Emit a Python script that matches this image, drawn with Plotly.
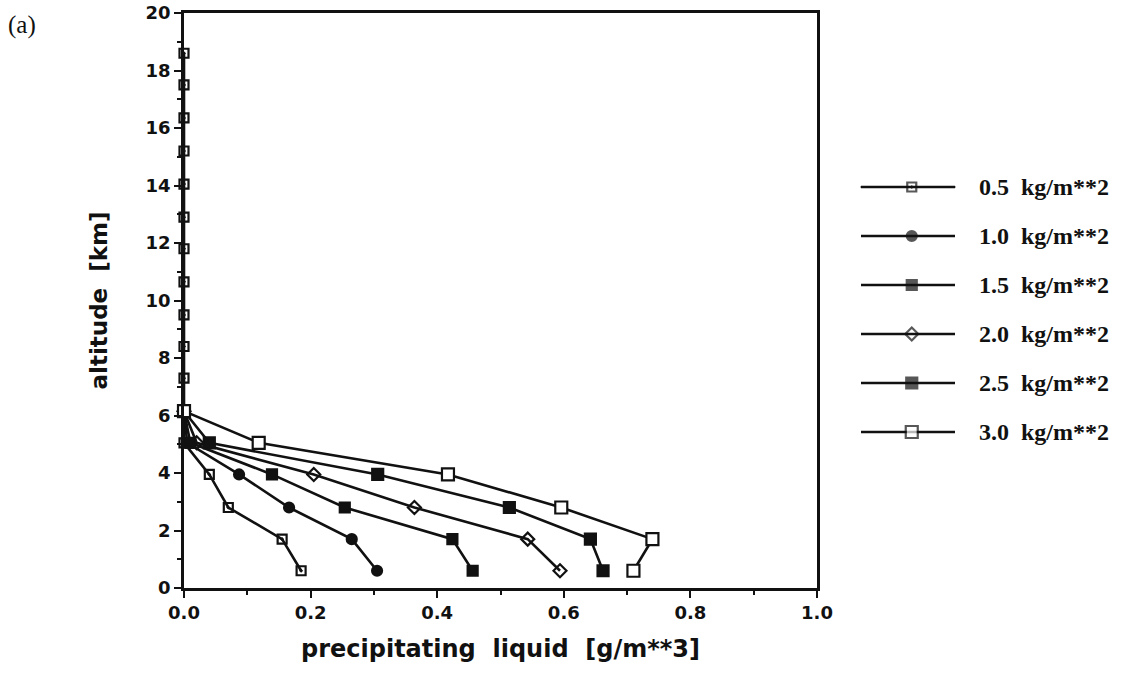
import plotly.graph_objects as go

# ---- data ----
altitude_km = [0.6, 1.7, 2.8, 3.95, 5.05, 6.15, 7.3, 8.4, 9.5, 10.65,
               11.8, 12.9, 14.05, 15.2, 16.35, 17.5, 18.6]

# the 0.5 profile is drawn up to the top level, the others stop at 6.15 km
liq_05 = [0.185, 0.155, 0.070, 0.040, 0.000, 0.0, 0.0, 0.0, 0.0, 0.0,
          0.0, 0.0, 0.0, 0.0, 0.0, 0.0, 0.0]
liq_10 = [0.305, 0.265, 0.166, 0.087, 0.005, 0.0]
liq_15 = [0.456, 0.424, 0.254, 0.139, 0.010, 0.0]
liq_20 = [0.594, 0.543, 0.364, 0.205, 0.020, 0.0]
liq_25 = [0.662, 0.642, 0.514, 0.306, 0.040, 0.0]
liq_30 = [0.710, 0.740, 0.596, 0.417, 0.118, 0.0]

series_values = [liq_05, liq_10, liq_15, liq_20, liq_25, liq_30]
series_labels = ["0.5  kg/m**2", "1.0  kg/m**2", "1.5  kg/m**2",
                 "2.0  kg/m**2", "2.5  kg/m**2", "3.0  kg/m**2"]

x_tick_vals = [0.0, 0.2, 0.4, 0.6, 0.8, 1.0]
x_tick_text = ["0.0", "0.2", "0.4", "0.6", "0.8", "1.0"]
y_tick_vals = [0, 2, 4, 6, 8, 10, 12, 14, 16, 18, 20]

# ---- styles ----
symbols = ["square-open-dot", "circle", "square", "diamond-open", "square", "square"]
fills = ["#111111", "#111111", "#111111", "#111111", "#111111", "white"]
sizes = [9, 10, 10, 10, 11, 12]
W, H = 1122, 682
BLACK = "#111111"

fig = go.Figure()

for vals, lab, sym, fc, sz in zip(series_values, series_labels, symbols, fills, sizes):
    fig.add_trace(go.Scatter(
        x=vals, y=altitude_km[:len(vals)], mode="lines+markers", name=lab,
        line=dict(color=BLACK, width=2.6),
        marker=dict(symbol=sym, size=sz, color=fc,
                    line=dict(color=BLACK, width=2.2)),
        cliponaxis=False, showlegend=False,
        xaxis="x", yaxis="y"))

# custom legend drawn on a second pair of axes
for i, (lab, sym, fc, sz) in enumerate(zip(series_labels, symbols, fills, sizes)):
    fig.add_trace(go.Scatter(
        x=[0, 0.54, 1], y=[i, i, i], mode="lines+markers",
        line=dict(color=BLACK, width=2.6),
        marker=dict(symbol=sym, size=[0, sz, 0], color=fc,
                    line=dict(color=BLACK, width=[0, 2.2, 0])),
        cliponaxis=False, showlegend=False, hoverinfo="skip",
        xaxis="x2", yaxis="y2"))
    fig.add_annotation(
        x=977 / W, xref="paper", y=i, yref="y2", text=lab, showarrow=False,
        xanchor="left", yanchor="middle",
        font=dict(family="Liberation Serif", size=24, color=BLACK, weight="bold"))

fig.add_annotation(
    x=6 / W, xref="paper", y=1 - 25 / H, yref="paper", text="(a)", showarrow=False,
    xanchor="left", yanchor="middle",
    font=dict(family="Liberation Serif", size=25, color=BLACK))

axis_common = dict(
    showgrid=False, zeroline=False, showline=True, linecolor=BLACK, linewidth=2.5,
    mirror=True, ticks="outside", tickcolor=BLACK, tickwidth=2, ticklen=7,
    automargin=False,
    tickfont=dict(family="DejaVu Sans", size=18, color=BLACK, weight="bold"),
)

fig.update_layout(
    width=W, height=H,
    margin=dict(l=0, r=0, t=0, b=0),
    paper_bgcolor="white", plot_bgcolor="white",
    template="none",
    showlegend=False,
    xaxis=dict(
        domain=[184 / W, 817 / W], range=[0, 1],
        tickvals=x_tick_vals, ticktext=x_tick_text,
        minor=dict(dtick=0.1, tick0=0, ticks="outside", ticklen=4, tickwidth=2, tickcolor=BLACK),
        title=dict(text="precipitating  liquid  [g/m**3]", standoff=18,
                   font=dict(family="DejaVu Sans", size=24, color=BLACK, weight="bold")),
        **axis_common),
    yaxis=dict(
        domain=[1 - 588 / H, 1 - 13 / H], range=[0, 20],
        tickvals=y_tick_vals,
        minor=dict(dtick=1, tick0=0, ticks="outside", ticklen=4, tickwidth=2, tickcolor=BLACK),
        title=dict(text="altitude  [km]", standoff=32,
                   font=dict(family="DejaVu Sans", size=23, color=BLACK, weight="bold")),
        **axis_common),
    xaxis2=dict(domain=[861 / W, 955 / W], range=[0, 1], visible=False, anchor="y2"),
    yaxis2=dict(domain=[1 - 456.5 / H, 1 - 162.5 / H], range=[5.5, -0.5], visible=False, anchor="x2"),
)

fig.write_html("out.html")
